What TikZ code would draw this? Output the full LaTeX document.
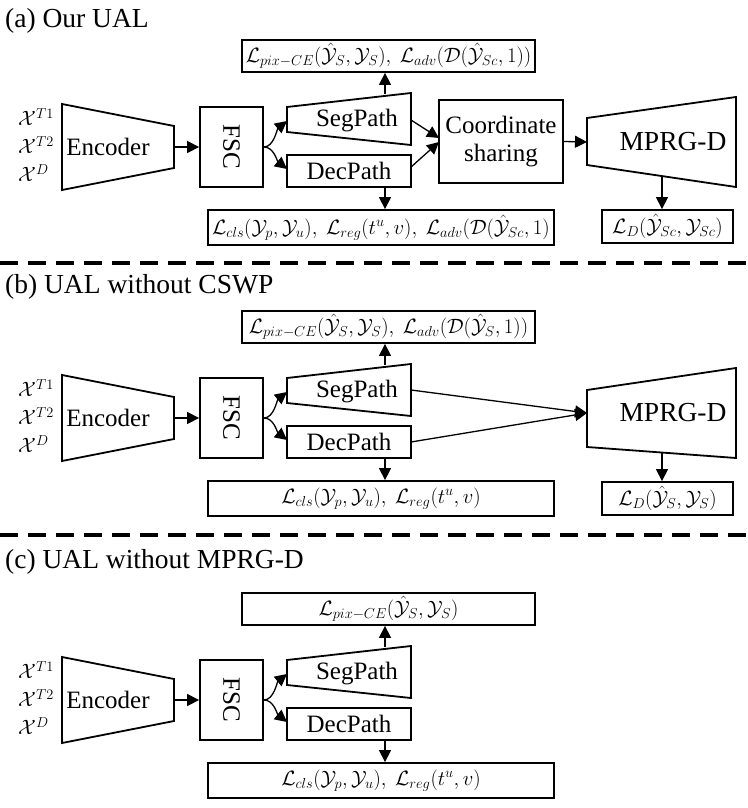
\documentclass[tikz,border=0pt]{standalone}
\usepackage{fontspec}
\setmainfont{Liberation Serif}
\usetikzlibrary{arrows.meta}
\tikzset{
  shp/.style={draw, line width=1.8pt, line join=miter},
  box/.style={draw, line width=1.8pt, inner sep=0pt},
  lbl/.style={inner sep=0pt, font=\fontsize{25}{28}\selectfont},
  mlbl/.style={inner sep=0pt, font=\fontsize{20.5}{24}\selectfont},
  inp/.style={inner sep=0pt, anchor=west, font=\fontsize{22}{25}\selectfont},
  ttl/.style={inner sep=0pt, anchor=base west, font=\fontsize{27.5}{32}\selectfont},
  arr/.style={-{Triangle[length=12pt,width=12pt]}, line width=1.3pt},
  sep/.style={line width=3.5pt, dash pattern=on 18pt off 10pt},
}
\newcommand\panelcore[3]{%
  \node[inp] (#1xa) at (18,117) {$\mathcal{X}^{T1}$};
  \node[inp] (#1xb) at (18,145) {$\mathcal{X}^{T2}$};
  \node[inp] (#1xc) at (18,173) {$\mathcal{X}^{D}$};
  \draw[shp] (62,104) coordinate (#1ea) -- (174,126) coordinate (#1eb) -- (174,168) coordinate (#1ec) -- (62,190) coordinate (#1ed) -- cycle;
  \coordinate (#1eout) at (174,147);
  \node[lbl] (#1enc) at (108,147) {Encoder};
  \node[box, minimum width=63pt, minimum height=80pt] (#1fsc) at (231.5,147) {};
  \node[lbl, rotate=-90] (#1fsct) at (#1fsc) {FSC};
  \draw[arr] (#1eout) -- (#1fsc.west);
  \draw[shp] (287,107) coordinate (#1sa) -- (411,93) coordinate (#1sb) -- (411,145) coordinate (#1sc) -- (287,132) coordinate (#1sd) -- cycle;
  \coordinate (#1sin) at (287,121);
  \coordinate (#1din) at (287,169);
  \coordinate (#1stop) at (385,94);
  \node[lbl] (#1seg) at (357,121) {SegPath};
  \node[box, lbl, minimum width=124pt, minimum height=32pt] (#1dec) at (349,171) {DecPath};
  \draw[arr] (#1fsc.east) .. controls +(10,0) and +(-10,8) .. (#1sin);
  \draw[arr] (#1fsc.east) .. controls +(10,0) and +(-10,-8) .. (#1din);
  \node[box, mlbl, minimum width=293pt, minimum height=32pt] (#1top) at (388.5,56) {#2};
  \node[box, mlbl, minimum width=346pt, minimum height=35pt] (#1bot) at (381,227.5) {#3};
  \draw[arr] (#1stop) -- (#1top.south -| #1stop);
  \draw[arr] (#1dec.south -| #1stop) -- (#1bot.north -| #1stop);
}
\begin{document}
\begin{tikzpicture}[x=1pt,y=-1pt]
\useasboundingbox (0,0) rectangle (747,808);
% separators
\draw[sep] (0,263) -- (747,263);
\draw[sep] (0,535) -- (747,535);
% ---------------- (a)
\node[ttl] (ta) at (5,28) {(a) Our UAL};
\panelcore{a}{$\mathcal{L}_{pix-CE}(\hat{\mathcal{Y}}_S,\mathcal{Y}_S),\ \mathcal{L}_{adv}(\mathcal{D}(\hat{\mathcal{Y}}_{Sc},1))$}{$\mathcal{L}_{cls}(\mathcal{Y}_p,\mathcal{Y}_u),\ \mathcal{L}_{reg}(t^u,v),\ \mathcal{L}_{adv}(\mathcal{D}(\hat{\mathcal{Y}}_{Sc},1)$}
\node[box, lbl, minimum width=124pt, minimum height=83pt, align=center] (acs) at (501,141.5) {Coordinate\\sharing};
\coordinate (asout) at (411,120);
\coordinate (adout) at (411,167);
\coordinate (acsin1) at (439,138);
\coordinate (acsin2) at (439,142);
\draw[arr] (asout) -- (acsin1);
\draw[arr] (adout) -- (acsin2);
\draw[shp] (587,118) coordinate (ama) -- (736,97) coordinate (amb) -- (736,187) coordinate (amc) -- (587,165) coordinate (amd) -- cycle;
\coordinate (amin) at (587,142);
\coordinate (amout) at (662,176);
\node[inner sep=0pt, font=\fontsize{27.5}{30}\selectfont] (amt) at (673,142) {MPRG-D};
\draw[arr] (acs.east) -- (amin);
\node[box, mlbl, minimum width=131pt, minimum height=33pt] (ald) at (667.5,226.5) {$\mathcal{L}_D(\hat{\mathcal{Y}}_{Sc},\mathcal{Y}_{Sc})$};
\draw[arr] (amout) -- (ald.north -| amout);
% ---------------- (b)
\node[ttl] (tb) at (5,293) {(b) UAL without CSWP};
\begin{scope}[shift={(0,271)}]
\panelcore{b}{$\mathcal{L}_{pix-CE}(\hat{\mathcal{Y}}_S,\mathcal{Y}_S),\ \mathcal{L}_{adv}(\mathcal{D}(\hat{\mathcal{Y}}_{S},1))$}{$\mathcal{L}_{cls}(\mathcal{Y}_p,\mathcal{Y}_u),\ \mathcal{L}_{reg}(t^u,v)$}
\draw[shp] (587,119) coordinate (bma) -- (736,97) coordinate (bmb) -- (736,187) coordinate (bmc) -- (587,176) coordinate (bmd) -- cycle;
\coordinate (bmin) at (587,142);
\coordinate (bmout) at (662,181.5);
\coordinate (bsout) at (411,119);
\coordinate (bdout) at (411,171);
\node[inner sep=0pt, font=\fontsize{27.5}{30}\selectfont] (bmt) at (673,142) {MPRG-D};
\draw[arr] (bsout) -- (bmin);
\draw[arr] (bdout) -- (bmin);
\node[box, mlbl, minimum width=131pt, minimum height=33pt] (bld) at (667.5,227.5) {$\mathcal{L}_D(\hat{\mathcal{Y}}_{S},\mathcal{Y}_{S})$};
\draw[arr] (bmout) -- (bld.north -| bmout);
\end{scope}
% ---------------- (c)
\node[ttl] (tc) at (5,568) {(c) UAL without MPRG-D};
\begin{scope}[shift={(0,553)}]
\panelcore{c}{$\mathcal{L}_{pix-CE}(\hat{\mathcal{Y}}_S,\mathcal{Y}_S)$}{$\mathcal{L}_{cls}(\mathcal{Y}_p,\mathcal{Y}_u),\ \mathcal{L}_{reg}(t^u,v)$}
\end{scope}
\end{tikzpicture}
\end{document}
